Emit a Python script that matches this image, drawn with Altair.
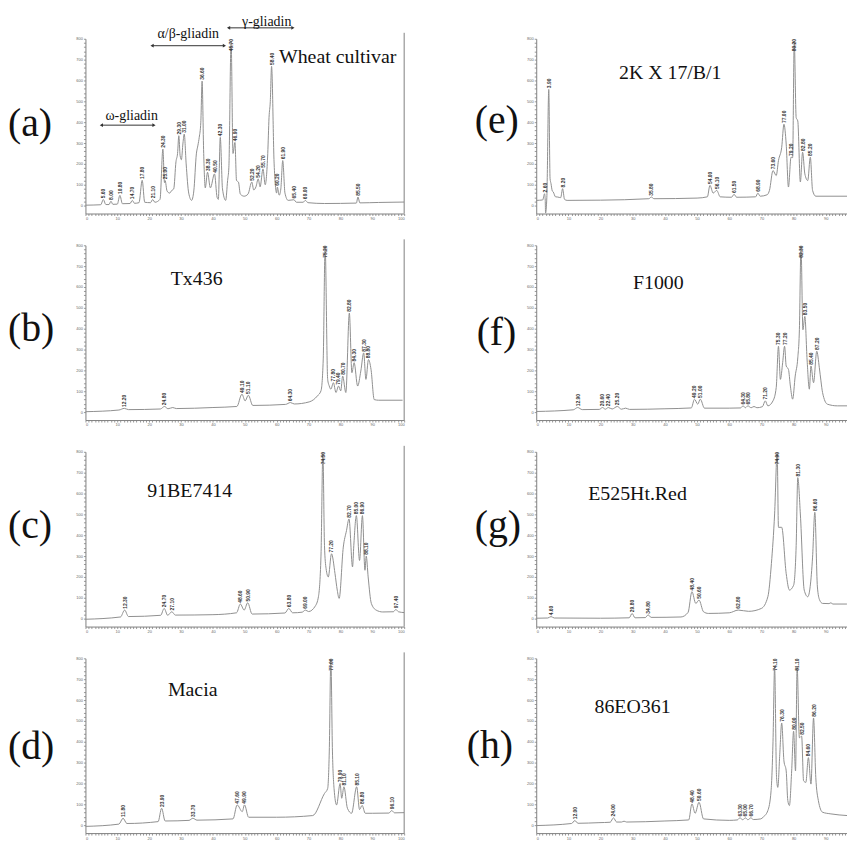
import altair as alt
import pandas as pd

# ---------------- data: retention time (min) / absorbance (mAU) ----------------
a_t = [0, 4.8, 5.6, 6.4, 7.4, 8.0, 8.6, 10.0, 10.8, 11.6, 14.0, 14.7, 15.4, 16.8, 17.8, 18.6, 20.4, 21.1, 21.8, 23.4,
       24.3, 24.8, 25.0, 25.6, 26.4, 27.1, 27.7, 28.4, 28.9, 29.3, 29.7, 30.1, 30.6, 31.0, 31.6, 32.4, 33.3, 34.0, 34.8, 35.3,
       35.7, 36.2, 36.6, 37.1, 37.6, 38.3, 39.2, 40.5, 41.3, 41.7, 42.3, 43.0, 44.0, 44.6, 45.0, 45.7, 46.3, 46.9, 47.4, 48.0,
       48.6, 49.8, 51.0, 52.2, 52.8, 53.5, 54.2, 54.8, 55.7, 56.4, 57.2, 57.6, 58.0, 58.4, 59.2, 60.0, 60.2, 60.8, 61.3, 61.9,
       62.6, 63.6, 65.4, 66.2, 68.3, 69.0, 69.8, 75.0, 85.0, 85.5, 86.1, 92.0, 100.0]
a_v = [2, 4, 29, 5, 5, 21, 6, 7, 49, 9, 10, 25, 11, 14, 121, 16, 14, 29, 16, 30,
       271, 110, 120, 70, 60, 73, 80, 210, 250, 335, 240, 220, 300, 343, 200, 60, 25, 70, 248, 290,
       327, 400, 597, 250, 85, 160, 85, 152, 40, 30, 327, 80, 25, 120, 184, 790, 250, 303, 120, 113,
       55, 45, 55, 113, 75, 90, 128, 90, 176, 100, 250, 422, 500, 668, 200, 60, 89, 50, 80, 216,
       60, 25, 28, 16, 16, 25, 14, 10, 12, 41, 13, 15, 17]

b_t = [0, 10.5, 12.2, 13.5, 23.5, 24.8, 25.9, 27.4, 28.5, 40, 47.5, 49.1, 50.1, 51.1, 52.5, 62.8, 64.3, 65.5, 70.2, 72.8,
       73.9, 74.6, 75.2, 76.0, 76.5, 77.0, 77.8, 78.6, 79.4, 80.1, 80.7, 81.7, 82.8, 83.6, 84.3, 85.4, 86.4, 87.3, 88.0, 88.8,
       89.6, 90.6, 92, 99.5]
b_v = [2, 10, 18, 12, 15, 27, 16, 22, 17, 22, 27, 86, 54, 81, 32, 37, 46, 39, 49, 78,
       102, 250, 795, 157, 125, 110, 141, 94, 125, 102, 173, 94, 475, 189, 237, 125, 197, 284, 157, 252,
       205, 60, 57, 57]

c_t = [0, 11.0, 12.3, 13.5, 23.6, 24.7, 25.8, 27.1, 28.2, 40, 47.4, 48.6, 49.8, 50.9, 52.3, 62.6, 63.8, 65.0, 68.0, 69.0,
       70.0, 72.1, 73.1, 73.9, 74.5, 75.0, 75.5, 76.2, 77.2, 78.3, 79.0, 79.6, 80.9, 81.9, 82.7, 83.8, 84.2, 85.0, 86.0, 86.9,
       87.7, 88.1, 88.7, 89.7, 91.2, 93.3, 96.6, 97.4, 98.2, 100]
c_v = [-3, 8, 41, 10, 16, 49, 16, 33, 17, 19, 28, 70, 41, 76, 22, 27, 49, 28, 31, 41,
       34, 60, 105, 300, 795, 350, 240, 200, 311, 216, 137, 97, 343, 422, 478, 248, 351, 494, 279, 494,
       232, 300, 200, 73, 41, 32, 33, 44, 33, 29]

d_t = [0, 10.5, 11.8, 13.0, 22.8, 23.9, 25.0, 32.5, 33.7, 35.0, 46.3, 47.6, 49.2, 49.9, 51.2, 60, 71.3, 75.0, 76.0, 76.5,
       77.0, 77.5, 78.0, 78.8, 79.9, 80.4, 81.1, 82.2, 83.5, 85.1, 86.0, 86.8, 87.8, 90, 95.2, 96.1, 97.0, 100]
d_v = [-6, 5, 33, 8, 17, 81, 20, 23, 33, 24, 30, 97, 65, 97, 38, 38, 46, 152, 176, 351,
       795, 351, 176, 97, 200, 129, 184, 81, 57, 184, 75, 95, 57, 57, 58, 70, 59, 60]

e_t = [0, 2.0, 2.6, 2.8, 2.9, 3.3, 3.9, 4.3, 4.6, 5.0, 5.3, 6.0, 6.7, 7.6, 8.2, 8.8, 9.6, 20, 35.0, 35.8,
       36.6, 50, 53.2, 54.0, 55.0, 56.1, 57.2, 60.7, 61.5, 62.3, 68.2, 68.9, 69.6, 71.8, 72.5, 73.6, 74.6, 75.3, 76.3, 77.0,
       77.7, 78.4, 79.2, 79.7, 80.2, 80.8, 81.3, 82.1, 82.8, 83.5, 84.4, 85.2, 85.9, 86.9, 97.2]
e_v = [25, 27, 57, 26, -36, 40, 557, 130, 105, 70, 65, 42, 41, 38, 81, 30, 25, 26, 33, 41,
       33, 36, 42, 97, 60, 73, 42, 40, 54, 40, 42, 60, 45, 52, 73, 168, 144, 216, 279, 390,
       295, 89, 232, 230, 790, 422, 406, 113, 256, 152, 120, 232, 73, 45, 45]

f_t = [0, 11.5, 12.9, 14.3, 19.6, 20.6, 21.5, 22.4, 23.6, 25.2, 26.5, 27.8, 29.0, 40, 48.2, 49.2, 50.2, 51.0, 52.3, 60,
       63.5, 64.3, 65.0, 65.8, 66.8, 67.7, 68.6, 70.3, 71.2, 72.0, 73.6, 74.6, 75.3, 75.9, 76.6, 77.2, 77.7, 78.4, 79.0, 79.7,
       80.5, 81.3, 81.8, 82.3, 82.9, 83.5, 84.2, 84.9, 85.4, 86.2, 87.2, 88.0, 88.5, 89.0, 90.5, 93.6, 97.2]
f_v = [3, 11, 22, 12, 13, 22, 14, 22, 15, 27, 14, 19, 13, 16, 20, 62, 38, 62, 19, 19,
       20, 30, 21, 30, 21, 27, 21, 26, 54, 30, 54, 118, 316, 157, 237, 316, 221, 205, 125, 62,
       173, 260, 395, 795, 395, 459, 250, 110, 221, 141, 292, 213, 150, 94, 38, 30, 30]

g_t = [0, 3.6, 4.6, 5.6, 20, 28.9, 29.8, 30.7, 33.9, 34.8, 35.7, 45, 47.2, 48.4, 49.6, 50.6, 52.0, 53.5, 60, 62.8,
       66, 70.0, 72.0, 73.1, 74.1, 74.9, 75.3, 76.3, 77.7, 78.7, 80.0, 80.8, 81.3, 82.1, 83.3, 84.4, 85.9, 86.6, 87.4, 88.1,
       89.0, 91.0, 91.6, 92.2, 96.5, 97.2]
g_v = [2, 3, 10, 3, 2, 4, 25, 4, 5, 18, 6, 8, 30, 129, 73, 89, 33, 25, 28, 41,
       35, 49, 105, 264, 502, 795, 438, 438, 216, 137, 160, 350, 676, 502, 137, 105, 295, 510, 152, 89,
       73, 72, 76, 70, 70, 85]

h_t = [0, 11.0, 12.0, 13.0, 19.5, 23.0, 24.0, 25.0, 26.5, 27.3, 28.1, 40, 47.4, 48.4, 49.4, 50.6, 52.0, 60, 62.5, 63.3,
       64.2, 65.0, 65.8, 66.7, 67.5, 69.8, 70.5, 72.0, 73.0, 73.6, 74.1, 74.7, 75.1, 75.7, 76.3, 77.0, 77.7, 78.2, 78.7, 79.4,
       80.0, 80.6, 81.1, 81.8, 82.5, 83.1, 83.8, 84.6, 85.4, 86.2, 86.9, 87.7, 89.0, 91.6, 96.7]
h_v = [-2, 8, 22, 9, 12, 14, 35, 15, 15, 19, 15, 20, 25, 102, 57, 110, 30, 23, 25, 35,
       26, 35, 26, 35, 27, 30, 38, 70, 165, 400, 760, 229, 181, 340, 490, 308, 260, 118, 94, 260,
       451, 260, 760, 419, 427, 213, 205, 324, 197, 514, 229, 118, 62, 54, 46]

panel_order = ["a", "e", "b", "f", "c", "g", "d", "h"]
cultivars = {"a": "Wheat cultivar", "b": "Tx436", "c": "91BE7414", "d": "Macia",
             "e": "2K X 17/B/1", "f": "F1000", "g": "E525Ht.Red", "h": "86EO361"}
traces = {"a": (a_t, a_v), "b": (b_t, b_v), "c": (c_t, c_v), "d": (d_t, d_v),
          "e": (e_t, e_v), "f": (f_t, f_v), "g": (g_t, g_v), "h": (h_t, h_v)}

gliadin_names = ["ω-gliadin", "α/β-gliadin", "γ-gliadin"]
gliadin_start = [5.0, 20.9, 44.9]
gliadin_end = [21.5, 43.6, 65.1]

# ---------------- layout / style ----------------
LEFT_W, RIGHT_W, H = 321, 313, 176
LINE_COLOR = "#8f8f8f"
AXIS_COLOR = "#808080"
letter_pos = {"a": (-78, 86), "b": (-78, 84), "c": (-78, 75), "d": (-78, 89),
              "e": (-62, 83), "f": (-60, 88), "g": (-62, 75), "h": (-70, 88)}
name_pos = {"a": (254, 18), "b": (112, 34), "c": (105, 40), "d": (108, 32),
            "e": (135, 35), "f": (123, 38), "g": (102, 43), "h": (97, 49)}
gl_text_y = [78, -5, -17]
gl_arrow_y = [87, 7, -11]
gl_text_dx = [4, 0, 6]


def peak_table(t, v):
    rows = []
    for i in range(1, len(t) - 1):
        if v[i] > v[i - 1] and v[i] > v[i + 1] and v[i] - min(v[i - 1], v[i + 1]) > 6:
            rows.append({"t": t[i], "mAU": v[i], "label": f"{t[i]:.2f}"})
    return pd.DataFrame(rows)


def make_panel(key):
    left = key in "abcd"
    W = LEFT_W if left else RIGHT_W
    xmax = 100 if left else 96.6
    t, v = traces[key]
    df = pd.DataFrame({"t": t, "mAU": v})
    xs = alt.Scale(domain=[0, xmax], nice=False, zero=False)
    ys = alt.Scale(domain=[-38, 800], nice=False, zero=False)
    xax = alt.Axis(values=list(range(0, int(xmax) + 1)), title=None, labelOverlap=False,
                   labelExpr="datum.value % 10 === 0 ? datum.label : ''")
    yax = alt.Axis(values=list(range(0, 801, 20)), title=None, labelOverlap=False,
                   labelExpr="datum.value % 100 === 0 ? datum.label : ''")

    line = alt.Chart(df).mark_line(color=LINE_COLOR, strokeWidth=1, interpolate="monotone", clip=True).encode(
        x=alt.X("t:Q", scale=xs, axis=xax), y=alt.Y("mAU:Q", scale=ys, axis=yax))

    pk = peak_table(t, v)
    peaks = alt.Chart(pk).transform_calculate(ly="min(datum.mAU + 6, 740)").mark_text(
        angle=270, align="left", baseline="middle", fontSize=5, color="#333", font="Liberation Sans",
        fontWeight="bold"
    ).encode(x=alt.X("t:Q", scale=xs, axis=xax), y=alt.Y("ly:Q", scale=ys, axis=yax), text="label:N")

    nx, ny = name_pos[key]
    name = alt.Chart(pd.DataFrame({"name": [cultivars[key]]})).mark_text(
        font="Liberation Serif", fontSize=20, align="center", baseline="middle", color="#111"
    ).encode(text="name:N", x=alt.value(nx), y=alt.value(ny))

    lx, ly = letter_pos[key]
    letter = alt.Chart(pd.DataFrame({"lab": [f"({key})"]})).mark_text(
        font="Liberation Serif", fontSize=40, align="left", baseline="middle", color="#111"
    ).encode(text="lab:N", x=alt.value(lx), y=alt.value(ly))

    layers = [line, peaks, name, letter]
    if left:
        border = alt.Chart(pd.DataFrame({"k": [0]})).mark_rule(color=AXIS_COLOR, strokeWidth=1).encode(
            x=alt.value(W), y=alt.value(-6), y2=alt.value(H))
        layers.append(border)
    if key == "a":
        for i, nm in enumerate(gliadin_names):
            gd = pd.DataFrame({"name": [nm], "start": [gliadin_start[i]], "end": [gliadin_end[i]]})
            rule = alt.Chart(gd).mark_rule(color="#333", strokeWidth=1).encode(
                x=alt.X("start:Q", scale=xs, axis=xax), x2="end:Q", y=alt.value(gl_arrow_y[i]))
            head_l = alt.Chart(gd).mark_point(shape="triangle-left", filled=True, size=14, color="#333", opacity=1).encode(
                x=alt.X("start:Q", scale=xs, axis=xax), y=alt.value(gl_arrow_y[i]))
            head_r = alt.Chart(gd).mark_point(shape="triangle-right", filled=True, size=14, color="#333", opacity=1).encode(
                x=alt.X("end:Q", scale=xs, axis=xax), y=alt.value(gl_arrow_y[i]))
            txt = alt.Chart(gd).transform_calculate(mid="(datum.start + datum.end) / 2").mark_text(
                font="Liberation Serif", fontSize=14, align="center", baseline="middle", color="#111", dx=gl_text_dx[i]
            ).encode(x=alt.X("mid:Q", scale=xs, axis=xax), y=alt.value(gl_text_y[i]), text="name:N")
            layers += [rule, head_l, head_r, txt]
    return alt.layer(*layers).properties(width=W, height=H)


chart = alt.concat(*[make_panel(k) for k in panel_order], columns=2,
                   spacing={"row": 32, "column": 133}, bounds="flush").properties(
    padding={"left": 0, "top": 4, "right": 0, "bottom": 0}
).configure_view(stroke=None).configure_axis(
    grid=False, domainColor=AXIS_COLOR, tickColor=AXIS_COLOR, tickSize=2, labelFontSize=4,
    labelColor="#666", labelPadding=1, labelFont="Liberation Sans", domainWidth=1, tickWidth=0.8
)

chart.save("out.html", embed_options={"renderer": "svg", "actions": False})
